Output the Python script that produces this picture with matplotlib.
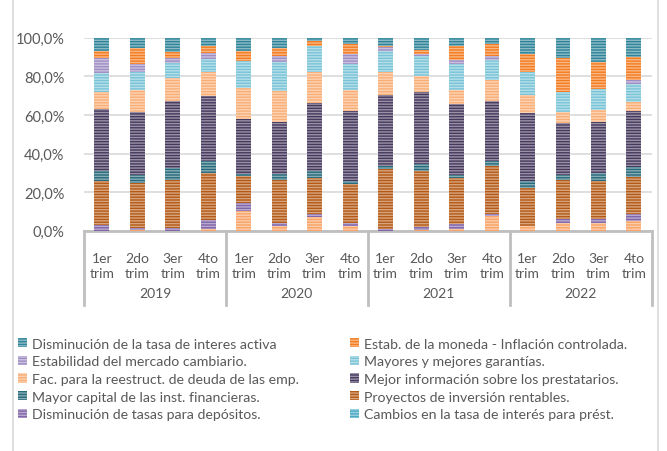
import numpy as np
import matplotlib
matplotlib.use("Agg")
import matplotlib.pyplot as plt
from matplotlib.patches import Patch, Rectangle
from matplotlib.transforms import blended_transform_factory

plt.rcParams['font.family'] = ['Lato', 'DejaVu Sans']
plt.rcParams['hatch.linewidth'] = 1.0

years = ["2019", "2020", "2021", "2022"]
quarters = ["1er\ntrim", "2do\ntrim", "3er\ntrim", "4to\ntrim"]

# series in stacking order, top of the bar first (legend order)
series_names = [
    "Disminución de la tasa de interes activa",
    "Estab. de la moneda - Inflación controlada.",
    "Estabilidad del mercado cambiario.",
    "Mayores y mejores garantías.",
    "Fac. para la reestruct. de deuda de las emp.",
    "Mejor información sobre los prestatarios.",
    "Mayor capital de las inst. financieras.",
    "Proyectos de inversión rentables.",
    "Disminución de tasas para depósitos.",
    "Cambios en la tasa de interés para prést.",
]

# % of answers, 16 quarters (2019 1er ... 2022 4to)
tasa_activa   = [7.0, 5.2, 7.1, 4.0, 6.6, 5.2, 1.4, 3.1, 4.0, 6.1, 4.0, 3.1, 8.3, 10.4, 12.3, 9.7]
moneda        = [3.5, 8.3, 3.4, 4.0, 5.2, 4.0, 2.6, 5.2, 0.8, 2.4, 7.4, 6.1, 9.5, 17.8, 14.2, 12.1]
cambiario     = [7.5, 4.3, 2.6, 2.9, 0.0, 3.4, 0.0, 5.2, 1.8, 0.7, 2.1, 2.2, 0.0, 0.0, 0.0, 2.1]
garantias     = [10.0, 9.2, 7.8, 6.6, 14.3, 15.1, 13.8, 13.5, 11.2, 10.7, 13.5, 10.4, 11.7, 10.1, 10.9, 9.2]
reestruct     = [9.0, 11.3, 12.0, 12.5, 16.0, 16.1, 16.0, 10.8, 11.7, 8.0, 7.3, 10.8, 9.5, 5.9, 6.1, 5.0]
informacion   = [32.0, 32.7, 34.3, 34.0, 28.4, 26.5, 35.1, 36.2, 36.8, 37.6, 36.7, 31.1, 35.1, 26.8, 26.3, 28.8]
capital       = [5.0, 4.3, 6.6, 5.8, 1.0, 3.5, 3.5, 1.5, 1.4, 3.4, 1.7, 2.6, 3.5, 2.6, 4.3, 5.1]
proyectos     = [23.0, 23.2, 24.7, 24.6, 13.9, 21.9, 19.0, 20.2, 31.3, 28.9, 23.6, 25.1, 19.9, 20.1, 19.9, 19.4]
depositos     = [3.0, 1.0, 1.5, 4.6, 4.3, 1.8, 1.4, 1.8, 1.0, 1.5, 2.7, 0.9, 0.0, 2.0, 1.7, 3.5]
cambios_tasa  = [0.0, 0.5, 0.0, 1.0, 10.3, 2.5, 7.2, 2.5, 0.0, 0.7, 1.0, 7.7, 2.5, 4.3, 4.3, 5.1]

values = [tasa_activa, moneda, cambiario, garantias, reestruct,
          informacion, capital, proyectos, depositos, cambios_tasa]

bar_colors = ["#2F8499", "#F47C20", "#9E8EC4", "#79C3D7", "#F9AE76",
              "#46395E", "#276A7B", "#B55A16", "#8065A8", "#F9A366"]
legend_colors = ["#2F8499", "#F47C20", "#9E8EC4", "#79C3D7", "#F9AE76",
                 "#46395E", "#276A7B", "#B55A16", "#8065A8", "#4AA9C4"]

text_color = "#595959"

data = np.array(values, dtype=float)
data = data / data.sum(axis=0)
n = data.shape[1]
x = np.arange(n)

fig = plt.figure(figsize=(6.67, 4.52), dpi=100)
ax = fig.add_axes([0.126, 0.487, 0.851, 0.427])

# stack from the bottom: last series first
bottom = np.zeros(n)
for k in range(len(values) - 1, -1, -1):
    ax.bar(x, data[k], 0.42, bottom=bottom, color=bar_colors[k],
           edgecolor=(1, 1, 1, 0.45), linewidth=0, hatch="------", zorder=3)
    bottom += data[k]

ax.set_xlim(-0.5, n - 0.5)
ax.set_ylim(0, 1)
ax.set_yticks(np.arange(0, 1.01, 0.2))
ax.set_yticklabels([f"{v:.1f}%".replace(".", ",") for v in np.arange(0, 101, 20)],
                   fontsize=10.5, color=text_color)
ax.tick_params(axis="y", length=0, pad=14)
ax.set_xticks([])
ax.grid(axis="y", color="#D9D9D9", linewidth=1.2, zorder=0)
for s in ["top", "right", "left"]:
    ax.spines[s].set_visible(False)
ax.spines["bottom"].set_color("#BFBFBF")
ax.spines["bottom"].set_linewidth(2)

# multi-level category axis
tr = blended_transform_factory(ax.transData, fig.transFigure)
for i in range(n):
    ax.text(x[i], 1 - 267 / 452, quarters[i % 4], transform=tr, ha="center",
            va="center", fontsize=10, color=text_color, linespacing=1.3)
for g, yr in enumerate(years):
    ax.text(4 * g + 1.5, 1 - 294 / 452, yr, transform=tr, ha="center",
            va="center", fontsize=10, color=text_color)
for g in range(len(years) + 1):
    ax.plot([4 * g - 0.5, 4 * g - 0.5], [1 - 232 / 452, 1 - 306 / 452],
            transform=tr, color="#BFBFBF", linewidth=2, clip_on=False)

# outer chart frame
fig.patches.append(Rectangle((13 / 667, -0.01), 645 / 667, 1.02,
                             transform=fig.transFigure, fill=False,
                             edgecolor="#D9D9D9", linewidth=1.2))

handles = [Patch(facecolor=c, edgecolor=(1, 1, 1, 0.45), linewidth=0, hatch="------")
           for c in legend_colors]
order = [0, 2, 4, 6, 8, 1, 3, 5, 7, 9]
leg = fig.legend([handles[i] for i in order], [series_names[i] for i in order],
                 loc="upper left", bbox_to_anchor=(0.018, 1 - 333 / 452), ncol=2,
                 frameon=False, fontsize=10.2, handlelength=0.65, handleheight=0.65,
                 handletextpad=0.35, columnspacing=3.6, labelspacing=0.4,
                 borderaxespad=0)
for t in leg.get_texts():
    t.set_color(text_color)

fig.savefig("out.png", dpi=100)
